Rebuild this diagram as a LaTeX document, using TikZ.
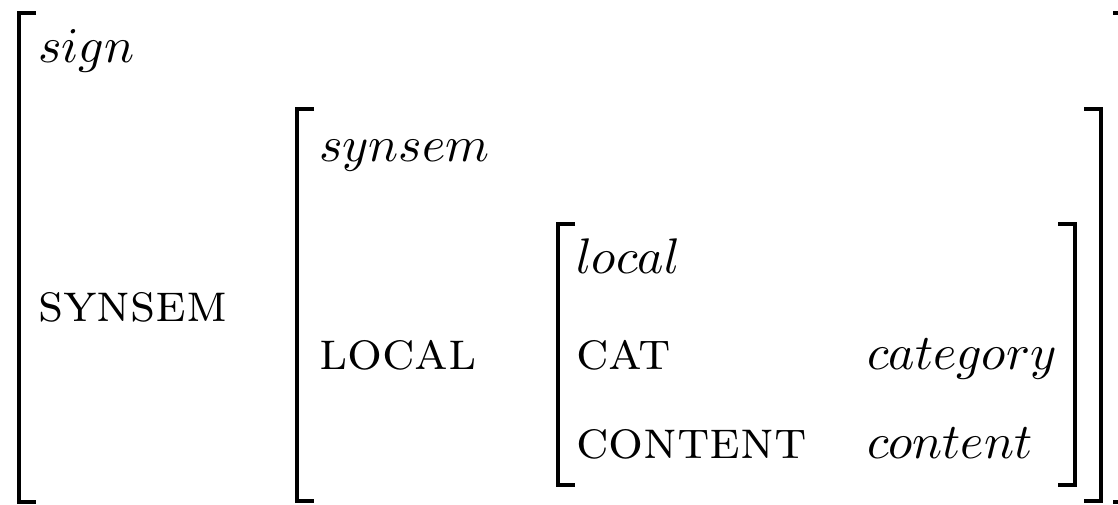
\documentclass[tikz,border=0pt]{standalone}
\usepackage{tikz}
\usetikzlibrary{positioning}
\tikzset{
  typenode/.style={anchor=base west, inner sep=0pt, font=\normalsize},
  featnode/.style={anchor=base west, inner sep=0pt, font=\fontsize{11}{13}\selectfont\scshape},
  valnode/.style={anchor=base west, inner sep=0pt, font=\normalsize},
  avmbrack/.style={line width=0.8pt, line cap=butt, line join=miter}
}

\begin{document}
\begin{tikzpicture}[x=0.2pt, y=-0.2pt]
  \useasboundingbox (0,0) rectangle (1118,505);

  % ── outer AVM (sign) ──
  \node[typenode] (signType) at (37,63) {$sign$};
  \node[featnode] (synsemAttr) at (37,321) {synsem};

  % ── middle AVM (synsem) ──
  \node[typenode] (synsemType) at (318,162) {$synsem$};
  \node[featnode] (localAttr) at (318,369) {local};

  % ── inner AVM (local) ──
  \node[typenode] (localType) at (575,274) {$local$};
  \node[featnode] (catAttr) at (575,369) {cat};
  \node[featnode] (contentAttr) at (575,458) {content};
  \node[valnode] (catVal) at (866,369) {$category$};
  \node[valnode] (contentVal) at (866,458) {$content$};

  % ── brackets ──
  \draw[avmbrack] (36,13) -- (19,13) -- (19,502) -- (36,502);
  \draw[avmbrack] (1113,13) -- (1130,13) -- (1130,502) -- (1113,502);

  \draw[avmbrack] (314,109) -- (297,109) -- (297,501) -- (314,501);
  \draw[avmbrack] (1084,109) -- (1101,109) -- (1101,501) -- (1084,501);

  \draw[avmbrack] (575,224) -- (558,224) -- (558,485) -- (575,485);
  \draw[avmbrack] (1058,224) -- (1075,224) -- (1075,485) -- (1058,485);

\end{tikzpicture}
\end{document}
